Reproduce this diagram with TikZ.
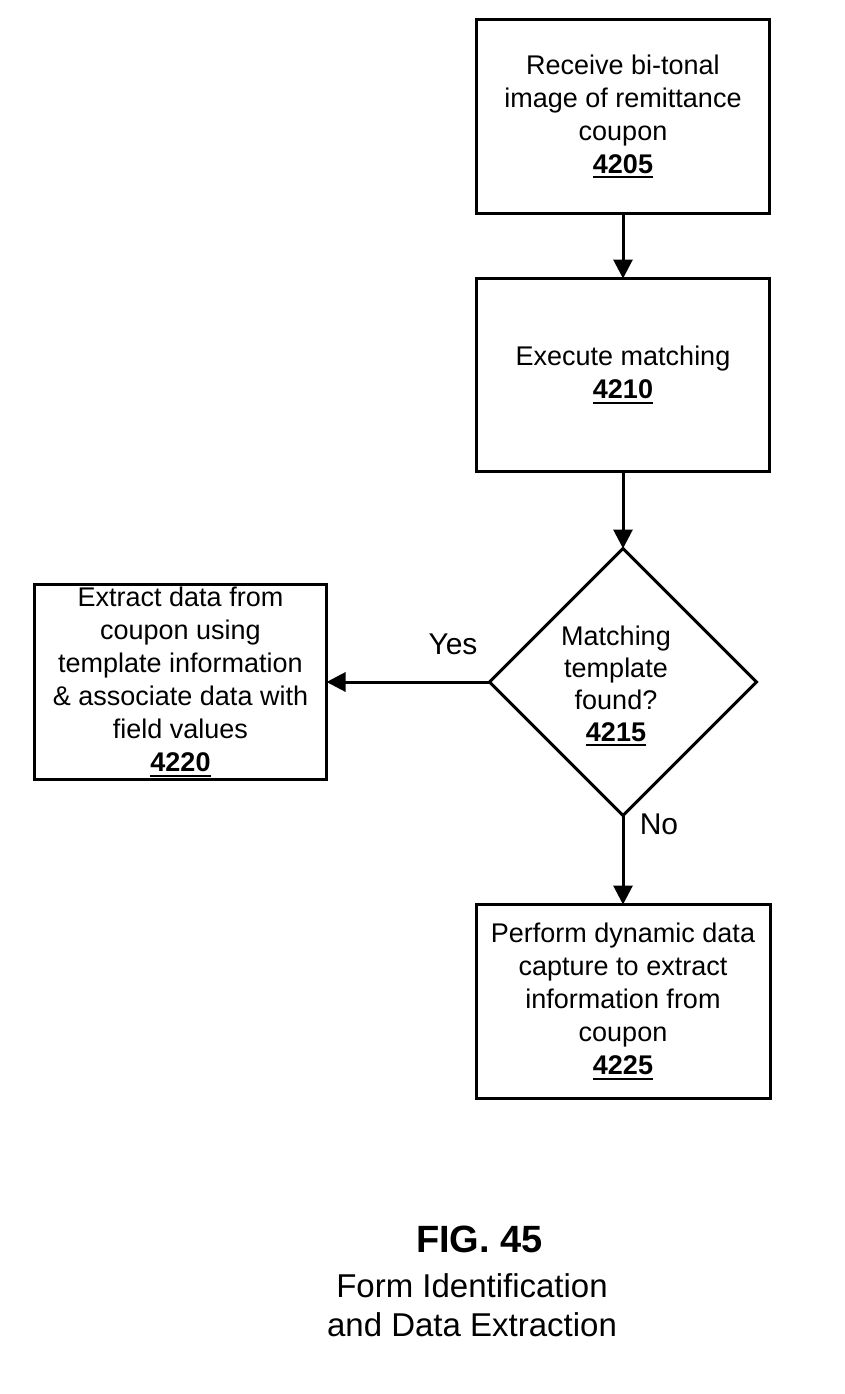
\documentclass[tikz,border=0pt]{standalone}
\usepackage{fontspec}
\setmainfont{Liberation Sans}
\usetikzlibrary{arrows.meta,shapes.geometric}
\newcommand{\refnum}[1]{\setbox0\hbox{\textbf{#1}}\leavevmode\rlap{\rule[-5pt]{\wd0}{2pt}}\box0}
\begin{document}
\begin{tikzpicture}[x=1pt,y=1pt,
  every node/.style={inner sep=0pt, outer sep=0pt},
  stepbox/.style={draw, line width=3pt, rectangle, align=center,
    font=\fontsize{27}{33}\selectfont},
  decbox/.style={draw, line width=3pt, diamond, aspect=1},
  lbl/.style={font=\fontsize{30}{36}\selectfont},
  conn/.style={line width=3pt, -{Triangle[length=19pt,width=19pt]}}
]
\useasboundingbox (0,0) rectangle (844,-1394);

\node[stepbox, minimum width=293pt, minimum height=194pt] (s4205) at (623,-116.5)
  {Receive bi-tonal\\image of remittance\\coupon\\\refnum{4205}};
\node[stepbox, minimum width=293pt, minimum height=193pt] (s4210) at (623,-375)
  {Execute matching\\\refnum{4210}};
\node[decbox, minimum width=267pt, minimum height=267pt] (d4215) at (623,-682) {};
\node[align=center, font=\fontsize{27}{32}\selectfont] (t4215) at (616,-686)
  {Matching\\template\\found?\\\refnum{4215}};
\node[stepbox, minimum width=292pt, minimum height=195pt] (s4220) at (180.5,-682)
  {Extract data from\\coupon using\\template information\\\& associate data with\\field values\\\refnum{4220}};
\node[stepbox, minimum width=294pt, minimum height=194pt] (s4225) at (623,-1001.5)
  {Perform dynamic data\\capture to extract\\information from\\coupon\\\refnum{4225}};

\draw[conn] (s4205.south) -- (s4210.north);
\draw[conn] (s4210.south) -- (d4215.north);
\draw[conn] (d4215.west) -- (s4220.east);
\draw[conn] (d4215.south) -- (s4225.north);

\node[lbl] (yes) at (453,-644) {Yes};
\node[lbl] (no) at (659,-824) {No};

\node[font=\fontsize{38}{44}\bfseries\selectfont] (fig) at (479.5,-1239) {FIG. 45};
\node[align=center, font=\fontsize{33}{39}\selectfont] (cap) at (472,-1305)
  {Form Identification\\and Data Extraction};
\end{tikzpicture}
\end{document}
